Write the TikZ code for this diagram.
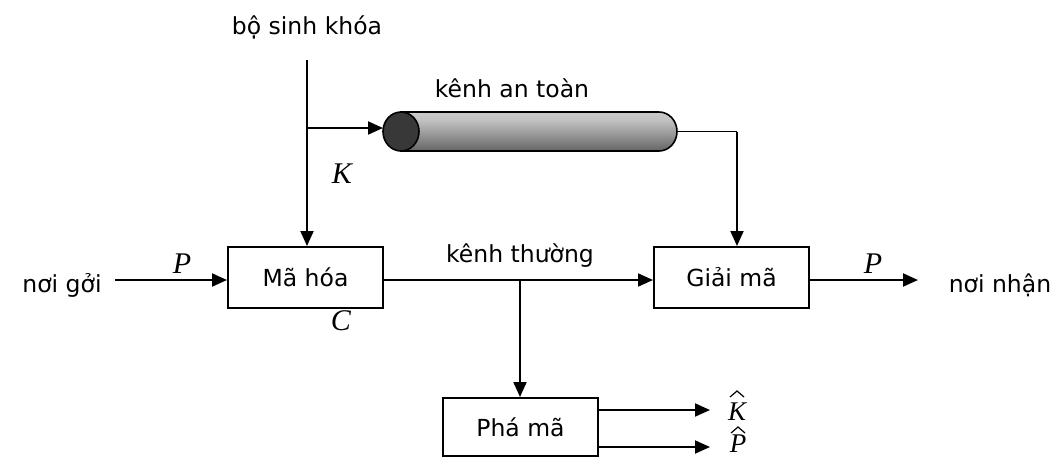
\documentclass[tikz,border=0pt]{standalone}
\usepackage{fontspec}
\setmainfont{DejaVu Sans}
\newfontfamily\varfont{Liberation Serif}
\usetikzlibrary{arrows.meta}
\pgfdeclareverticalshading{cylshade}{100bp}{color(0bp)=(black!80); color(12bp)=(black!72); color(65bp)=(black!24); color(80bp)=(black!20); color(100bp)=(black!40)}
\begin{document}
\begin{tikzpicture}[x=1pt,y=-1pt,
  ln/.style={line width=2pt},
  arr/.style={ln,-{Triangle[length=15pt,width=13pt]}},
  hat/.style={line width=1.2pt,line join=miter},
  blk/.style={draw,line width=2pt,minimum width=155pt,minimum height=61pt,inner sep=0pt,font=\fontsize{23.5}{26}\selectfont},
  lbl/.style={font=\fontsize{23.5}{26}\selectfont,inner sep=0pt},
  mth/.style={font=\varfont\itshape\fontsize{30}{32}\selectfont,inner sep=0pt},
  mths/.style={font=\varfont\itshape\fontsize{27}{29}\selectfont,inner sep=0pt}]
\useasboundingbox (0,0) rectangle (1050,456);
% boxes
\node[blk] (enc) at (305.5,277.5) {Mã hóa};
\node[blk] (dec) at (731.5,277.5) {Giải mã};
\node[blk,minimum height=58pt] (brk) at (520.5,427) {Phá mã};
% labels
\node[lbl] (gen) at (307,27) {bộ sinh khóa};
\node[lbl] (snd) at (62,285) {nơi gởi};
\node[lbl] (rcv) at (1000,285) {nơi nhận};
\node[lbl] (sec) at (512,88) {kênh an toàn};
\node[lbl] (pub) at (520,256) {kênh thường};
\node[mth] (K) at (342,174) {K};
\node[mth] (C) at (341,321) {C};
\node[mth] (P1) at (182,264) {P};
\node[mth] (P2) at (873,264) {P};
\node[mths] (Kh) at (737,412) {K};
\node[mths] (Ph) at (738,444) {P};
\draw[hat] (730,397) -- (737,391) -- (744,397);
\draw[hat] (731,433) -- (738,427) -- (745,433);
% cylinder
\coordinate (cl) at (401,131.5);
\shade[shading=cylshade,draw=black,line width=1.6pt]
  (401,112) -- (659,112) arc[start angle=90,end angle=-90,x radius=18pt,y radius=19.5pt] -- (401,151) -- cycle;
\draw[line width=1.6pt,fill=black!78] (cl) ellipse[x radius=18pt,y radius=19.5pt];
\coordinate (cylL) at (383,131.5);
\coordinate (cylR) at (677,131.5);
% connectors
\coordinate (gtop) at (307,60);
\coordinate (gbr) at (307,128);
\draw[arr] (gtop) -- (gtop |- enc.north);
\draw[ln] (gbr) -- ++(20,0) coordinate (gmid);
\draw[arr] (gmid) -- (cylL |- gbr);
\coordinate (rc) at (737,131.5);
\draw[line width=1.3pt] (cylR) -- (rc);
\draw[arr] (rc) -- (rc |- dec.north);
\coordinate (s0) at (115,280);
\draw[arr] (s0) -- (s0 -| enc.west);
\draw[arr] (enc.east |- s0) -- (dec.west |- s0);
\coordinate (tap) at (520,280);
\draw[arr] (tap) -- (tap |- brk.north);
\coordinate (r1) at (918,280);
\draw[arr] (dec.east |- r1) -- (r1);
\coordinate (k1) at (710,410);
\coordinate (p1) at (710,447);
\draw[arr] (brk.east |- k1) -- (k1);
\draw[arr] (brk.east |- p1) -- (p1);
\end{tikzpicture}
\end{document}
